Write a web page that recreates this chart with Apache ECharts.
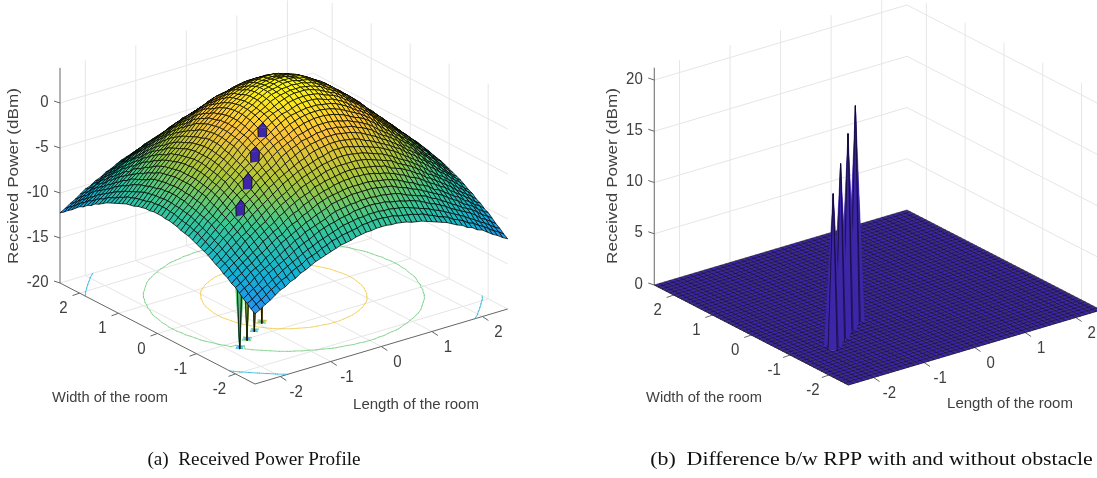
<!DOCTYPE html>
<html><head><meta charset="utf-8">
<style>html,body{margin:0;padding:0;background:#fff}#c{width:1097px;height:478px}</style>
<script src="https://cdn.jsdelivr.net/npm/echarts@6/dist/echarts.min.js"></script>
</head><body><div id="c"></div>
<script>
// ---- values read / ----
const roomTicks = [-2, -1, 0, 1, 2];
const powerTicksA = [-20, -15, -10, -5, 0];
const powerTicksB = [0, 5, 10, 15, 20];
const contourLevels = [-20, -15, -10, -5, 0];
const obstacleX = [-1.8, -1.5, -1.2, -0.9];
const obstacleY = [-1.2, -1.0, -0.8, -0.6];
const obstaclePower = [-20.2, -20.2, -20.2, -20.2];
const differencePeaks = [15.1, 17.2, 19.3, 21.2];
const xTitle = 'Length of the room';
const yTitle = 'Width of the room';
const zTitle = 'Received Power (dBm)';
const captionA = '(a)  Received Power Profile';
const captionB = '(b)  Difference b/w RPP with and without obstacle';
// received power (dBm): one quadrant of the room, rows = |width| in 0.1 steps, columns = |length| in 0.1 steps
const powerQuadrant = [
[4.0,4.0,3.9,3.7,3.6,3.3,3.0,2.6,2.3,1.9,1.4,1.0,.5,0,-.5,-1.1,-1.7,-2.2,-2.7,-3.4,-3.9,-4.5,-5.0,-5.6,-6.1,-6.7],
[4.0,4.0,3.8,3.7,3.6,3.3,3.0,2.6,2.3,1.9,1.4,.9,.5,0,-.5,-1.1,-1.7,-2.2,-2.8,-3.4,-3.9,-4.5,-5.0,-5.6,-6.1,-6.7],
[3.9,3.8,3.8,3.6,3.5,3.2,2.9,2.5,2.2,1.8,1.3,.9,.4,-.1,-.6,-1.2,-1.7,-2.3,-2.8,-3.4,-3.9,-4.6,-5.1,-5.7,-6.2,-6.8],
[3.7,3.7,3.6,3.5,3.3,3.1,2.7,2.4,2.1,1.7,1.2,.7,.3,-.2,-.8,-1.3,-1.8,-2.4,-2.9,-3.5,-4.0,-4.6,-5.1,-5.7,-6.2,-6.8],
[3.6,3.6,3.5,3.3,3.1,2.8,2.5,2.3,1.9,1.5,1.0,.6,.2,-.3,-.9,-1.4,-1.9,-2.5,-3.0,-3.6,-4.1,-4.7,-5.3,-5.8,-6.4,-6.9],
[3.3,3.3,3.2,3.1,2.8,2.6,2.4,2.1,1.7,1.3,.9,.5,0,-.5,-1.1,-1.6,-2.1,-2.6,-3.2,-3.7,-4.2,-4.8,-5.4,-5.9,-6.5,-7.0],
[3.0,3.0,2.9,2.7,2.5,2.4,2.1,1.8,1.4,1.0,.6,.2,-.2,-.8,-1.3,-1.8,-2.3,-2.8,-3.3,-3.8,-4.3,-4.9,-5.5,-6.0,-6.6,-7.2],
[2.6,2.6,2.5,2.4,2.3,2.1,1.8,1.5,1.1,.7,.4,0,-.4,-1.0,-1.5,-2.0,-2.5,-2.9,-3.5,-4.0,-4.6,-5.1,-5.7,-6.2,-6.7,-7.3],
[2.3,2.3,2.2,2.1,1.9,1.7,1.4,1.1,.8,.5,.1,-.3,-.8,-1.3,-1.7,-2.2,-2.7,-3.3,-3.7,-4.2,-4.8,-5.4,-5.8,-6.4,-6.9,-7.4],
[1.9,1.9,1.8,1.7,1.5,1.3,1.0,.7,.5,.2,-.2,-.6,-1.1,-1.6,-2.0,-2.5,-2.9,-3.5,-4.0,-4.5,-5.0,-5.6,-6.0,-6.6,-7.0,-7.6],
[1.4,1.4,1.3,1.2,1.0,.9,.6,.4,.1,-.2,-.6,-1.1,-1.5,-1.9,-2.3,-2.8,-3.3,-3.7,-4.2,-4.8,-5.3,-5.8,-6.2,-6.8,-7.3,-7.8],
[1.0,.9,.9,.7,.6,.5,.2,0,-.3,-.6,-1.1,-1.5,-1.8,-2.2,-2.6,-3.2,-3.6,-4.0,-4.6,-5.0,-5.5,-6.0,-6.5,-7.0,-7.5,-8.0],
[.5,.5,.4,.3,.2,0,-.2,-.5,-.8,-1.1,-1.5,-1.8,-2.2,-2.6,-3.0,-3.5,-3.9,-4.3,-4.8,-5.4,-5.8,-6.2,-6.8,-7.3,-7.8,-8.2],
[0,0,-.1,-.2,-.3,-.5,-.8,-1.0,-1.3,-1.6,-1.9,-2.2,-2.6,-2.9,-3.4,-3.8,-4.2,-4.7,-5.1,-5.6,-6.1,-6.6,-7.0,-7.5,-8.0,-8.4],
[-.5,-.5,-.6,-.8,-.9,-1.1,-1.3,-1.5,-1.7,-2.0,-2.3,-2.6,-3.0,-3.4,-3.8,-4.2,-4.6,-5.0,-5.5,-5.9,-6.4,-6.8,-7.3,-7.8,-8.2,-8.7],
[-1.1,-1.1,-1.2,-1.3,-1.4,-1.6,-1.8,-2.0,-2.2,-2.5,-2.8,-3.2,-3.5,-3.8,-4.2,-4.6,-5.0,-5.5,-5.9,-6.4,-6.7,-7.2,-7.6,-8.1,-8.6,-9.0],
[-1.7,-1.7,-1.7,-1.8,-1.9,-2.1,-2.3,-2.5,-2.7,-2.9,-3.3,-3.6,-3.9,-4.2,-4.6,-5.0,-5.5,-5.8,-6.2,-6.6,-7.0,-7.5,-8.0,-8.4,-8.8,-9.2],
[-2.2,-2.2,-2.3,-2.4,-2.5,-2.6,-2.8,-2.9,-3.3,-3.5,-3.7,-4.0,-4.3,-4.7,-5.0,-5.5,-5.8,-6.2,-6.6,-7.0,-7.4,-7.9,-8.3,-8.7,-9.1,-9.6],
[-2.7,-2.8,-2.8,-2.9,-3.0,-3.2,-3.3,-3.5,-3.7,-4.0,-4.2,-4.6,-4.8,-5.1,-5.5,-5.9,-6.2,-6.6,-6.9,-7.4,-7.8,-8.2,-8.6,-9.0,-9.5,-9.8],
[-3.4,-3.4,-3.4,-3.5,-3.6,-3.7,-3.8,-4.0,-4.2,-4.5,-4.8,-5.0,-5.4,-5.6,-5.9,-6.4,-6.6,-7.0,-7.4,-7.8,-8.1,-8.6,-8.9,-9.4,-9.7,-10.2],
[-3.9,-3.9,-3.9,-4.0,-4.1,-4.2,-4.3,-4.6,-4.8,-5.0,-5.3,-5.5,-5.8,-6.1,-6.4,-6.7,-7.0,-7.4,-7.8,-8.1,-8.6,-8.9,-9.2,-9.7,-10.1,-10.4],
[-4.5,-4.5,-4.6,-4.6,-4.7,-4.8,-4.9,-5.1,-5.4,-5.6,-5.8,-6.0,-6.2,-6.6,-6.8,-7.2,-7.5,-7.9,-8.2,-8.6,-8.9,-9.2,-9.6,-10.1,-10.4,-10.8],
[-5.0,-5.0,-5.1,-5.1,-5.3,-5.4,-5.5,-5.7,-5.8,-6.0,-6.2,-6.5,-6.8,-7.0,-7.3,-7.6,-8.0,-8.3,-8.6,-8.9,-9.2,-9.6,-10.1,-10.4,-10.8,-11.2],
[-5.6,-5.6,-5.7,-5.7,-5.8,-5.9,-6.0,-6.2,-6.4,-6.6,-6.8,-7.0,-7.3,-7.5,-7.8,-8.1,-8.4,-8.7,-9.0,-9.4,-9.7,-10.1,-10.4,-10.8,-11.2,-11.5],
[-6.1,-6.1,-6.2,-6.2,-6.4,-6.5,-6.6,-6.7,-6.9,-7.0,-7.3,-7.5,-7.8,-8.0,-8.2,-8.6,-8.8,-9.1,-9.5,-9.7,-10.1,-10.4,-10.8,-11.2,-11.5,-11.9],
[-6.7,-6.7,-6.8,-6.8,-6.9,-7.0,-7.2,-7.3,-7.4,-7.6,-7.8,-8.0,-8.2,-8.4,-8.7,-9.0,-9.2,-9.6,-9.8,-10.2,-10.4,-10.8,-11.2,-11.5,-11.9,-12.2]
];

// ---- colour map (parula) and helpers ----
const parula = [[62,38,168],[72,82,244],[46,135,247],[18,177,214],[55,200,151],[171,199,57],[254,195,56],[249,251,21]];
function parulaColor(t){
  t = Math.max(0, Math.min(1, t)) * (parula.length - 1);
  const k = Math.min(parula.length - 2, Math.floor(t)), f = t - k;
  const c = parula[k].map((v, n) => Math.round(v + (parula[k + 1][n] - v) * f));
  return 'rgb(' + c.join(',') + ')';
}
const N = 51, LIM = 2.5;
const coordAt = k => (k - 25) / 10;
const obstacleCell = new Set(obstacleX.map((x, k) => (Math.round(obstacleY[k] * 10) + 25) * N + Math.round(x * 10) + 25));
function buildPower(){
  const m = [];
  for (let iy = 0; iy < N; iy++){
    const r = [];
    for (let ix = 0; ix < N; ix++) r.push(powerQuadrant[Math.abs(iy - 25)][Math.abs(ix - 25)]);
    m.push(r);
  }
  obstacleX.forEach((x, k) => { m[Math.round(obstacleY[k] * 10) + 25][Math.round(x * 10) + 25] = obstaclePower[k]; });
  return m;
}
function buildDifference(){
  const m = [];
  for (let iy = 0; iy < N; iy++) m.push(new Array(N).fill(0));
  obstacleX.forEach((x, k) => { m[Math.round(obstacleY[k] * 10) + 25][Math.round(x * 10) + 25] = differencePeaks[k]; });
  return m;
}
const panelA = { cx:283.85, cy:296, ax:[50.54,-15], ay:[-39,-20.2], zs:9, floor:-20, top:3.9, zTicks:powerTicksA, mesh:1,
  m:buildPower(), color:v => parulaColor((v + 20.2) / 24.2), titleX:[416,405], titleY:[110,398], titleZ:[14,176], caption:[254,460], capText:captionA, capScale:1.01 };
const panelB = { cx:877.6, cy:297.5, ax:[50.54,-15], ay:[-38.8,-20], zs:10.25, floor:0, top:21.2, zTicks:powerTicksB, mesh:0.6,
  m:buildDifference(), color:() => parulaColor(0), titleX:[1010,404], titleY:[704,398], titleZ:[613,176], caption:[871.5,460], capText:captionB, capScale:1.15 };
function proj(p, x, y, z){
  return [p.cx + x * p.ax[0] + y * p.ay[0], p.cy + x * p.ax[1] + y * p.ay[1] - (z - p.floor) * p.zs];
}

// ---- derived mark lists ----
function gridSegments(p){
  const s = [];
  roomTicks.forEach(t => {
    s.push([t, -LIM, p.floor, t, LIM, p.floor]);
    s.push([-LIM, t, p.floor, LIM, t, p.floor]);
    s.push([t, LIM, p.floor, t, LIM, p.top]);
    s.push([LIM, t, p.floor, LIM, t, p.top]);
  });
  p.zTicks.forEach(z => {
    s.push([-LIM, LIM, z, LIM, LIM, z]);
    s.push([LIM, LIM, z, LIM, -LIM, z]);
  });
  return s;
}
function cellsOf(p){
  const c = [];
  for (let iy = 0; iy < N - 1; iy++) for (let ix = 0; ix < N - 1; ix++) c.push([ix, iy]);
  c.sort((a, b) => (0.61 * b[0] + 0.79 * b[1]) - (0.61 * a[0] + 0.79 * a[1]));
  return c;
}
function contourSegments(p){
  const out = [];
  contourLevels.forEach(L => {
    const col = p.color(L);
    for (let iy = 0; iy < N - 1; iy++) for (let ix = 0; ix < N - 1; ix++){
      const q = [[ix,iy],[ix+1,iy],[ix+1,iy+1],[ix,iy+1]], pts = [];
      for (let e = 0; e < 4; e++){
        const a = q[e], b = q[(e+1)%4], va = p.m[a[1]][a[0]], vb = p.m[b[1]][b[0]];
        if ((va < L) !== (vb < L)){
          const f = (L - va) / (vb - va);
          pts.push([coordAt(a[0] + (b[0]-a[0]) * f), coordAt(a[1] + (b[1]-a[1]) * f)]);
        }
      }
      for (let k = 0; k + 1 < pts.length; k += 2) out.push([pts[k][0], pts[k][1], pts[k+1][0], pts[k+1][1], col]);
    }
  });
  return out;
}

// ---- series ----
const fontSans = '"Liberation Sans", Arial, sans-serif';
const textColor = '#404040';
function lineSeries(p, segs, color, width, z){
  return { type:'custom', coordinateSystem:'cartesian2d', silent:true, clip:false, z, animation:false, progressive:0,
    data:segs.map((s, i) => [i]),
    renderItem:(params, api) => {
      const s = segs[params.dataIndex], a = api.coord(proj(p, s[0], s[1], s[2])), b = api.coord(proj(p, s[3], s[4], s[5]));
      return { type:'line', shape:{x1:a[0],y1:a[1],x2:b[0],y2:b[1]}, style:{stroke:color,lineWidth:width,fill:null} };
    } };
}
function tickSeries(p){
  const items = [];
  roomTicks.forEach(t => items.push([t, -LIM, p.floor, 6, 4]));
  roomTicks.forEach(t => items.push([-LIM, t, p.floor, -7, 2.5]));
  p.zTicks.forEach(z => items.push([-LIM, LIM, z, -6, -2]));
  return { type:'custom', coordinateSystem:'cartesian2d', silent:true, clip:false, z:3, animation:false, progressive:0,
    data:items.map((s, i) => [i]),
    renderItem:(params, api) => {
      const s = items[params.dataIndex], c = proj(p, s[0], s[1], s[2]), a = api.coord(c), b = api.coord([c[0] + s[3], c[1] + s[4]]);
      return { type:'line', shape:{x1:a[0],y1:a[1],x2:b[0],y2:b[1]}, style:{stroke:'#666',lineWidth:1,fill:null} };
    } };
}
function textSeries(p){
  const items = [];
  roomTicks.forEach(t => { const c = proj(p, t, -LIM, p.floor); items.push({t:String(t), x:c[0] + 16, y:c[1] + 16, fs:15, sy:1.1}); });
  roomTicks.forEach(t => { const c = proj(p, -LIM, t, p.floor); items.push({t:String(t), x:c[0] - 16, y:c[1] + 15.5, fs:15, sy:1.1}); });
  p.zTicks.forEach(z => { const c = proj(p, -LIM, LIM, z); items.push({t:String(z), x:c[0] - 11.5, y:c[1] - 1, fs:15, sy:1.1, al:'right'}); });
  items.push({t:xTitle, x:p.titleX[0], y:p.titleX[1], fs:15});
  items.push({t:yTitle, x:p.titleY[0], y:p.titleY[1], fs:14.7});
  items.push({t:zTitle, x:p.titleZ[0], y:p.titleZ[1], fs:15, rot:Math.PI / 2, sx:1.14});
  items.push({t:p.capText, x:p.caption[0], y:p.caption[1], fs:19, sx:p.capScale, ff:'"Liberation Serif", serif', col:'#111'});
  return { type:'custom', coordinateSystem:'cartesian2d', silent:true, clip:false, z:6, animation:false, progressive:0,
    data:items.map((s, i) => [i]),
    renderItem:(params, api) => {
      const s = items[params.dataIndex], c = api.coord([s.x, s.y]);
      return { type:'text', x:c[0], y:c[1], rotation:s.rot || 0, scaleX:s.sx || 1, scaleY:s.sy || 1,
        style:{text:s.t, x:0, y:0, fontSize:s.fs, fontFamily:s.ff || fontSans, fill:s.col || textColor, align:s.al || 'center', verticalAlign:'middle'} };
    } };
}
function contourSeries(p){
  const segs = contourSegments(p);
  return { type:'custom', coordinateSystem:'cartesian2d', silent:true, clip:false, z:4, animation:false, progressive:0,
    data:segs.map((s, i) => [i]),
    renderItem:(params, api) => {
      const s = segs[params.dataIndex], a = api.coord(proj(p, s[0], s[1], p.floor)), b = api.coord(proj(p, s[2], s[3], p.floor));
      return { type:'line', shape:{x1:a[0],y1:a[1],x2:b[0],y2:b[1]}, style:{stroke:s[4],lineWidth:1,opacity:0.7,lineCap:'round',fill:null} };
    } };
}
function surfaceSeries(p){
  const cells = cellsOf(p);
  const stroke = 'rgba(0,0,0,0.72)';
  return { type:'custom', coordinateSystem:'cartesian2d', silent:true, clip:false, z:5, animation:false, progressive:0,
    data:cells.map((s, i) => [i]),
    renderItem:(params, api) => {
      const c = cells[params.dataIndex], ix = c[0], iy = c[1];
      const corners = [[ix,iy],[ix+1,iy],[ix+1,iy+1],[ix,iy+1]];
      const pts = corners.map(q => api.coord(proj(p, coordAt(q[0]), coordAt(q[1]), p.m[q[1]][q[0]])));
      const fill = p.color(p.m[iy][ix]);
      const touchesObstacle = corners.some(q => obstacleCell.has(q[1] * N + q[0]));
      if (!touchesObstacle)
        return { type:'polygon', shape:{points:pts}, style:{fill, stroke, lineWidth:p.mesh} };
      // a quad holding an obstacle point is split along its anti-diagonal, far triangle first
      return { type:'group', children:[
        { type:'polygon', shape:{points:[pts[1],pts[2],pts[3]]}, style:{fill, stroke:fill, lineWidth:0.3} },
        { type:'polygon', shape:{points:[pts[0],pts[1],pts[3]]}, style:{fill, stroke:fill, lineWidth:0.3} },
        { type:'polygon', shape:{points:pts}, style:{fill:null, stroke, lineWidth:p.mesh} }
      ] };
    } };
}
function axisLines(p){
  return [[-LIM,-LIM,p.floor,LIM,-LIM,p.floor],[-LIM,-LIM,p.floor,-LIM,LIM,p.floor],[-LIM,LIM,p.floor,-LIM,LIM,p.top]];
}

const series = [];
[panelA, panelB].forEach(p => {
  series.push(lineSeries(p, gridSegments(p), '#e6e6e6', 1, 1));
  series.push(lineSeries(p, axisLines(p), '#666', 1, 3));
  series.push(tickSeries(p));
  if (p === panelA) series.push(contourSeries(p));
  series.push(surfaceSeries(p));
  series.push(textSeries(p));
});

const chart = echarts.init(document.getElementById('c'), null, {renderer:'canvas'});
chart.setOption({
  animation:false, backgroundColor:'#fff',
  grid:{left:0, right:0, top:0, bottom:0},
  xAxis:{type:'value', min:0, max:1097, show:false},
  yAxis:{type:'value', min:0, max:478, inverse:true, show:false},
  series
});
</script></body></html>
